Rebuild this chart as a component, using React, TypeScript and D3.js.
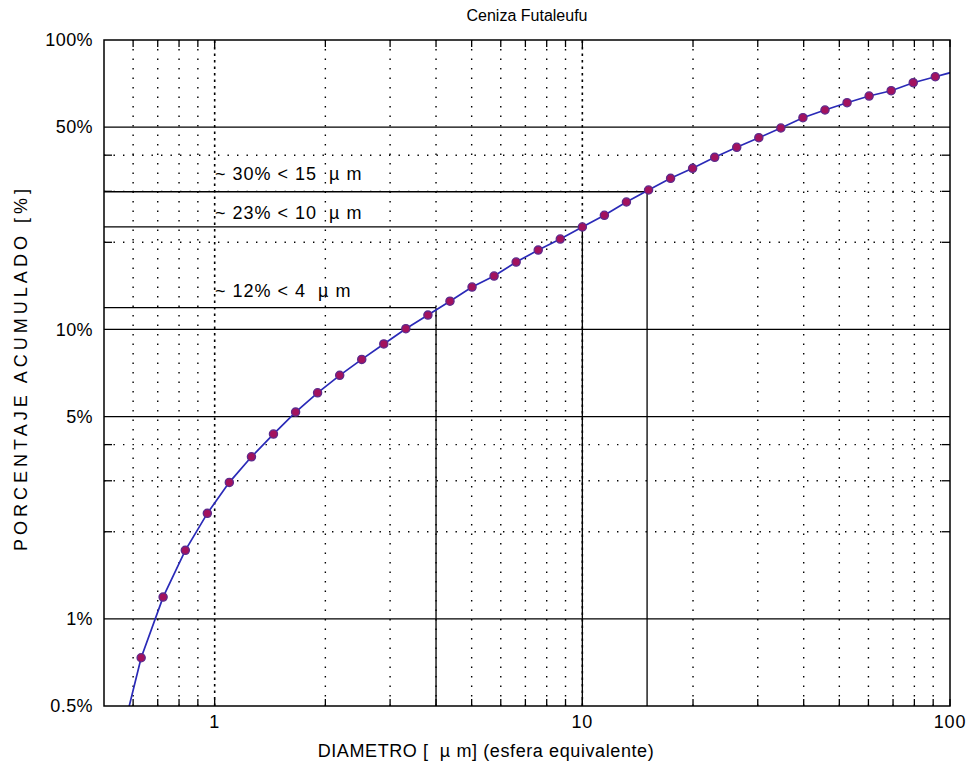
import React from "react";
import * as d3 from "d3";

const diameters = [0.5464, 0.631, 0.724, 0.832, 0.955, 1.096, 1.259, 1.445, 1.66, 1.905, 2.188, 2.512, 2.884, 3.311, 3.802, 4.365, 5.012, 5.754, 6.607, 7.586, 8.71, 10.0, 11.48, 13.18, 15.14, 17.38, 19.95, 22.91, 26.3, 30.2, 34.67, 39.81, 45.71, 52.48, 60.26, 69.18, 79.43, 91.2, 104.7];
const cumPercent = [0.35, 0.734, 1.189, 1.725, 2.315, 2.962, 3.63, 4.35, 5.18, 6.04, 6.94, 7.88, 8.91, 10.06, 11.21, 12.52, 14.01, 15.29, 17.09, 18.8, 20.53, 22.59, 24.79, 27.56, 30.32, 33.27, 36.02, 39.32, 42.58, 45.96, 49.66, 53.89, 57.3, 60.71, 64.04, 66.8, 71.19, 74.65, 78.3];

const xMajorTicks = [1, 10, 100];
const xMajorLabels = ["1", "10", "100"];
const xMinorTicks = [0.6, 0.7, 0.8, 0.9, 2, 3, 4, 5, 6, 7, 8, 9, 20, 30, 40, 50, 60, 70, 80, 90];
const yMajorTicks = [0.5, 1, 5, 10, 50, 100];
const yMajorLabels = ["0.5%", "1%", "5%", "10%", "50%", "100%"];
const yMinorTicks = [2, 3, 4, 20, 30, 40];

const annotDiam = [15, 10, 4];
const annotPercent = [29.9, 22.6, 11.9];
const annotLabels = ["~ 30% < 15  \u00b5 m", "~ 23% < 10  \u00b5 m", "~ 12% < 4  \u00b5 m"];
const annotTextY = [179.5, 218.5, 296.5];

const title = "Ceniza Futaleufu";
const xTitle = "DIAMETRO [  \u00b5 m] (esfera equivalente)";
const yTitle = "PORCENTAJE ACUMULADO [%]";

const L = 104, R = 950, T = 40, B = 706;
const FONT = "'Liberation Sans', Arial, sans-serif";

export default function App() {
  const x = d3.scaleLog().domain([0.5, 100]).range([L, R]);
  const y = d3.scaleLog().domain([0.5, 100]).range([B, T]);
  const pts = diameters.map((d, i) => [d, cumPercent[i]] as [number, number]);
  const line = d3.line<[number, number]>().x(d => x(d[0])).y(d => y(d[1]));
  const inside = pts.filter(p => p[0] >= 0.5 && p[0] <= 100 && p[1] >= 0.5 && p[1] <= 100);

  return (
    <svg width={968} height={769} style={{ position: "absolute", left: 0, top: 0, background: "#fff" }}>
      <defs>
        <clipPath id="plotclip">
          <rect x={L} y={T} width={R - L} height={B - T} />
        </clipPath>
      </defs>
      <rect x={0} y={0} width={968} height={769} fill="#fff" />
      {xMinorTicks.map((t, i) => (
        <line key={"xv" + i} x1={x(t)} x2={x(t)} y1={B} y2={T} stroke="#000" strokeWidth={1.4} strokeDasharray="1.4 8.1" />
      ))}
      {xMajorTicks.slice(0, 2).map((t, i) => (
        <line key={"xM" + i} x1={x(t)} x2={x(t)} y1={B} y2={T} stroke="#000" strokeWidth={1.6} strokeDasharray="2.5 4" />
      ))}
      {yMinorTicks.map((t, i) => (
        <line key={"yv" + i} x1={L} x2={R} y1={y(t)} y2={y(t)} stroke="#000" strokeWidth={1.4} strokeDasharray="1.4 8.1" />
      ))}
      {yMajorTicks.slice(1, 5).map((t, i) => (
        <line key={"yM" + i} x1={L} x2={R} y1={y(t)} y2={y(t)} stroke="#000" strokeWidth={1.3} />
      ))}
      {[...xMinorTicks, ...xMajorTicks].map((t, i) => (
        <g key={"xt" + i}>
          <line x1={x(t)} x2={x(t)} y1={B} y2={B - 7} stroke="#000" strokeWidth={1.3} />
          <line x1={x(t)} x2={x(t)} y1={T} y2={T + 7} stroke="#000" strokeWidth={1.3} />
        </g>
      ))}
      {yMinorTicks.map((t, i) => (
        <g key={"yt" + i}>
          <line x1={L} x2={L + 8} y1={y(t)} y2={y(t)} stroke="#000" strokeWidth={1.3} />
          <line x1={R} x2={R - 8} y1={y(t)} y2={y(t)} stroke="#000" strokeWidth={1.3} />
        </g>
      ))}
      {annotDiam.map((d, i) => (
        <g key={"an" + i}>
          <line x1={L} x2={x(d)} y1={y(annotPercent[i])} y2={y(annotPercent[i])} stroke="#000" strokeWidth={1.3} />
          <line x1={x(d)} x2={x(d)} y1={B} y2={y(annotPercent[i])} stroke="#000" strokeWidth={1.3} />
        </g>
      ))}
      {annotLabels.map((s, i) => (
        <text key={"al" + i} x={215} y={annotTextY[i]} fontFamily={FONT} fontSize={18} letterSpacing={1} xmlSpace="preserve" style={{ whiteSpace: "pre" }} fill="#000">{s}</text>
      ))}
      <g clipPath="url(#plotclip)">
        <path d={line(pts) || ""} fill="none" stroke="#2a2ab8" strokeWidth={1.7} />
      </g>
      {inside.map((p, i) => (
        <circle key={"c" + i} cx={x(p[0])} cy={y(p[1])} r={4.1} fill="#a3125e" stroke="#5e2a8c" strokeWidth={1.3} />
      ))}
      <rect x={L} y={T} width={R - L} height={B - T} fill="none" stroke="#000" strokeWidth={1.5} />
      {xMajorTicks.map((t, i) => (
        <text key={"xl" + i} x={x(t)} y={728} textAnchor="middle" fontFamily={FONT} fontSize={18} letterSpacing={0.8} fill="#000">{xMajorLabels[i]}</text>
      ))}
      {yMajorTicks.map((t, i) => (
        <text key={"yl" + i} x={93} y={y(t)} dy="0.35em" textAnchor="end" fontFamily={FONT} fontSize={18} letterSpacing={0.4} fill="#000">{yMajorLabels[i]}</text>
      ))}
      <text x={527} y={21} textAnchor="middle" fontFamily={FONT} fontSize={16} fill="#000">{title}</text>
      <text x={486} y={757} textAnchor="middle" fontFamily={FONT} fontSize={18} letterSpacing={0.6} xmlSpace="preserve" style={{ whiteSpace: "pre" }} fill="#000">{xTitle}</text>
      <text transform={`translate(27,370) rotate(-90)`} textAnchor="middle" fontFamily={FONT} fontSize={18} textLength={362} lengthAdjust="spacing" fill="#000">{yTitle}</text>
    </svg>
  );
}
